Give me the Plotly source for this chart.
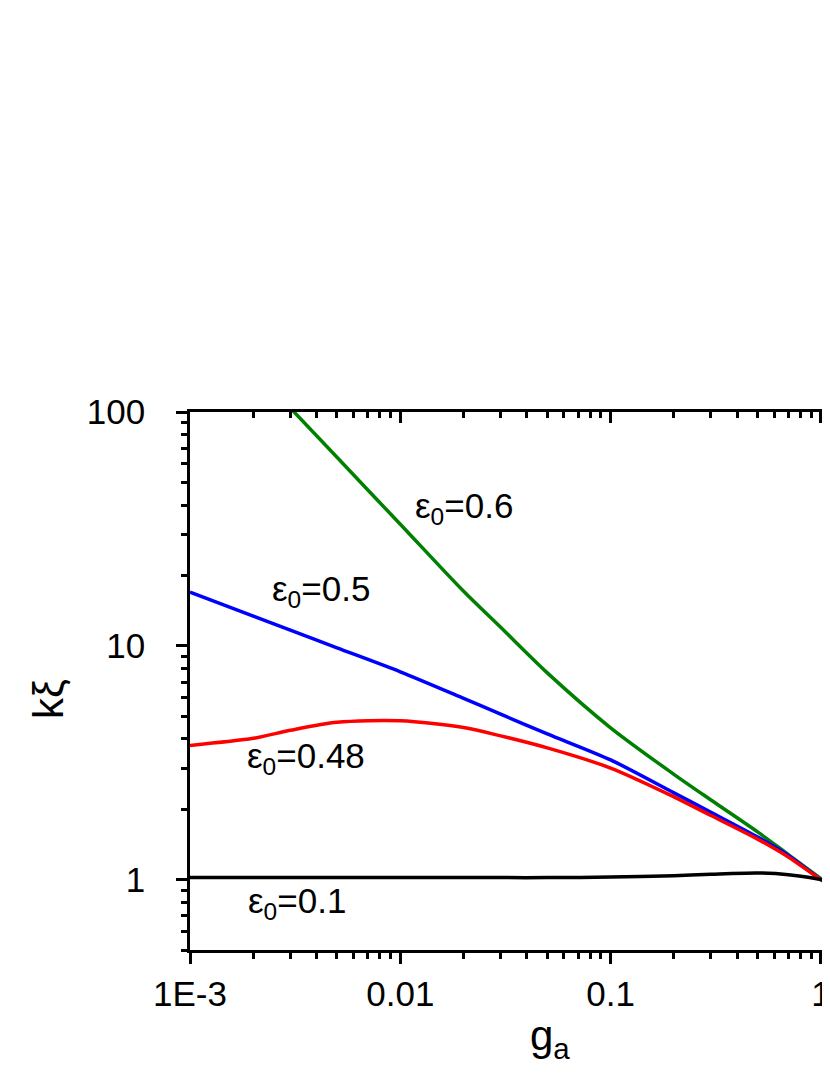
import numpy as np
import plotly.graph_objects as go

g_a = [0.001, 0.002, 0.003, 0.005, 0.01, 0.02, 0.03, 0.05, 0.1, 0.2, 0.3, 0.5, 0.7, 1.0, 1.1]

# k*xi for each epsilon_0 (None where the curve is outside the frame)
k_xi_06 = [None, None, 104.0, 64.0, 33.1, 17.1, 12.0, 7.66, 4.46, 2.82, 2.19, 1.60, 1.28, 1.01, 0.949]
k_xi_05 = [16.96, 13.4, 11.67, 9.8, 7.74, 5.96, 5.1, 4.2, 3.25, 2.35, 1.94, 1.52, 1.27, 1.0, 0.955]
k_xi_048 = [3.75, 4.02, 4.35, 4.71, 4.78, 4.47, 4.12, 3.66, 3.00, 2.26, 1.88, 1.49, 1.25, 1.0, 0.955]
k_xi_01 = [1.02, 1.02, 1.02, 1.02, 1.02, 1.02, 1.02, 1.02, 1.025, 1.04, 1.055, 1.068, 1.05, 1.0, 0.966]

series = [
    ("0.6", k_xi_06, "#008000"),
    ("0.5", k_xi_05, "#0000ff"),
    ("0.48", k_xi_048, "#ff0000"),
    ("0.1", k_xi_01, "#000000"),
]

# label positions (log10 g_a, log10 k_xi) of the curve labels
label_pos = {
    "0.6": (-1.940, 1.589),
    "0.5": (-2.620, 1.235),
    "0.48": (-2.738, 0.520),
    "0.1": (-2.733, -0.100),
}

x_ticks = [0.001, 0.01, 0.1, 1]
x_tick_text = ["1E-3", "0.01", "0.1", "1"]
y_ticks = [1, 10, 100]
y_tick_text = ["1", "10", "100"]

FONT = "Liberation Sans, Arial, sans-serif"
# the page body adds 8px around the figure, so the figure is shifted back by that;
# the frame runs on past the right edge of the page, as in the original
W, H = 822, 1055
L, R, T = 182, 0, 404
PLOT_H = 538
B = H - T - PLOT_H
x_range = [-3, -3 + (W - L - R) / 210.3]
y_range = [np.log10(0.5), 2]

fig = go.Figure()
for name, vals, col in series:
    fig.add_trace(go.Scatter(
        x=g_a, y=vals, mode="lines", name=name,
        line=dict(color=col, width=3.5, shape="spline", smoothing=0.8),
        connectgaps=False, showlegend=False,
    ))

for name, vals, col in series:
    lx, ly = label_pos[name]
    fig.add_annotation(
        x=lx, y=ly, xref="x", yref="y",
        text="ε<sub>0</sub>=" + name,
        showarrow=False, xanchor="left", yanchor="middle",
        font=dict(family=FONT, size=35, color="black"),
    )

# axis titles as annotations (the original frame is wider than the page)
fig.add_annotation(
    x=(550 - 190) / (W - L - R), y=(950 - 1067) / PLOT_H, xref="paper", yref="paper",
    text="g<sub>a</sub>", showarrow=False, xanchor="center", yanchor="bottom",
    font=dict(family=FONT, size=42, color="black"),
)
fig.add_annotation(
    x=(48 - 190) / (W - L - R), y=(950 - 699) / PLOT_H, xref="paper", yref="paper",
    text="kξ", showarrow=False, textangle=-90, xanchor="center", yanchor="middle",
    font=dict(family=FONT, size=42, color="black"),
)

axis_common = dict(
    type="log", showgrid=False, zeroline=False, automargin=False,
    showline=True, linecolor="black", linewidth=2.5,
    tickcolor="black", tickwidth=2.5, ticklen=11,
    tickfont=dict(family=FONT, size=35, color="black"),
    ticklabeloverflow="allow",
)
minor_out = dict(ticks="outside", ticklen=6, tickwidth=2.5, tickcolor="black", dtick="D1", showgrid=False)
minor_in = dict(ticks="inside", ticklen=6, tickwidth=2.5, tickcolor="black", dtick="D1", showgrid=False)

fig.update_layout(
    width=W, height=H,
    margin=dict(l=L, r=R, t=T, b=B, autoexpand=False),
    plot_bgcolor="white", paper_bgcolor="white",
    xaxis=dict(
        **axis_common, range=x_range, ticks="outside",
        tickvals=x_ticks, ticktext=x_tick_text, minor=minor_out,
    ),
    xaxis2=dict(
        **axis_common, range=x_range, overlaying="x", side="top", ticks="inside",
        tickvals=x_ticks, showticklabels=False, minor=minor_in,
    ),
    yaxis=dict(
        **axis_common, range=y_range, ticks="outside",
        tickvals=y_ticks, ticktext=y_tick_text, ticklabelstandoff=24,
        minor=minor_out,
    ),
)

# invisible trace so the top axis is drawn
fig.add_trace(go.Scatter(x=g_a, y=k_xi_01, xaxis="x2", mode="lines",
                         line=dict(width=0), opacity=0, hoverinfo="skip", showlegend=False))

fig.write_html("out.html")
